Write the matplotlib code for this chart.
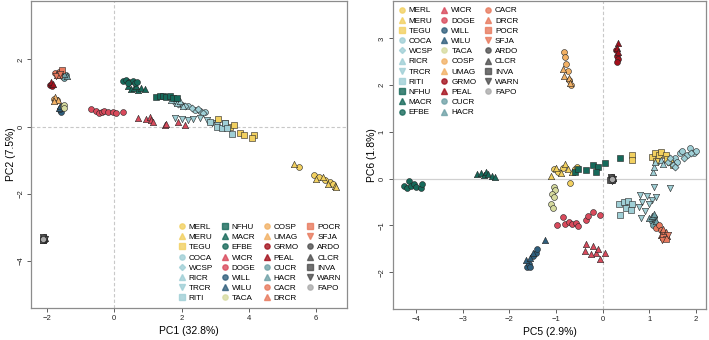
import matplotlib
matplotlib.use("Agg")
import matplotlib.pyplot as plt
from matplotlib.lines import Line2D

plt.rcParams['font.family'] = ['Liberation Sans', 'DejaVu Sans']

# =============================================================================
# DATA
# =============================================================================
GROUPS = ["MERL", "MERU", "TEGU", "COCA", "WCSP", "RICR", "TRCR", "RITI",
          "NFHU", "MACR", "EFBE", "WICR", "DOGE", "WILL", "WILU", "TACA",
          "COSP", "UMAG", "GRMO", "PEAL", "CUCR", "HACR", "CACR", "DRCR",
          "POCR", "SFJA", "ARDO", "CLCR", "INVA", "WARN", "FAPO"]

# PC1 / PC2 (left panel)
merl_pc1 = [5.48, 5.95, 6.1, 6.25, 6.4, 6.5]
merl_pc2 = [-1.19, -1.45, -1.5, -1.6, -1.65, -1.7]
meru_pc1 = [5.33, 6.0, 6.2, 6.35, 6.55, 6.6]
meru_pc2 = [-1.1, -1.55, -1.5, -1.7, -1.78, -1.8]
tegu_pc1 = [3.07, 3.3, 3.45, 3.55, 3.75, 3.85, 4.14, 4.1]
tegu_pc2 = [0.24, 0.12, 0.0, 0.05, -0.2, -0.25, -0.26, -0.33]
coca_pc1 = [1.8, 2.0, 2.2, 2.4, 2.55, 2.7]
coca_pc2 = [0.72, 0.65, 0.6, 0.5, 0.48, 0.45]
wcsp_pc1 = [1.9, 2.1, 2.3, 2.5, 2.65]
wcsp_pc2 = [0.68, 0.6, 0.55, 0.52, 0.42]
ricr_pc1 = [1.7, 1.85, 2.05, 1.95]
ricr_pc2 = [0.78, 0.7, 0.62, 0.75]
trcr_pc1 = [1.8, 2.0, 2.2, 2.35, 2.55, 2.75, 2.9, 3.05]
trcr_pc2 = [0.25, 0.22, 0.2, 0.22, 0.25, 0.2, 0.1, 0.05]
riti_pc1 = [2.85, 3.05, 3.2, 3.3, 3.5, 3.35]
riti_pc2 = [0.15, 0.0, -0.05, 0.1, -0.22, -0.05]
nfhu_pc1 = [1.25, 1.35, 1.45, 1.55, 1.65, 1.75, 1.85]
nfhu_pc2 = [0.88, 0.92, 0.9, 0.88, 0.9, 0.85, 0.85]
macr_pc1 = [0.4, 0.5, 0.6, 0.7, 0.8, 0.9, 0.65]
macr_pc2 = [1.2, 1.12, 1.15, 1.1, 1.15, 1.12, 1.2]
efbe_pc1 = [0.25, 0.35, 0.45, 0.55, 0.62, 0.4, 0.68]
efbe_pc2 = [1.35, 1.38, 1.32, 1.35, 1.3, 1.3, 1.33]
wicr_pc1 = [0.7, 0.95, 1.05, 1.1, 1.15, 1.5, 1.55, 1.9, 2.1]
wicr_pc2 = [0.25, 0.22, 0.3, 0.2, 0.15, 0.05, 0.08, 0.15, 0.05]
doge_pc1 = [-0.7, -0.55, -0.45, -0.38, -0.3, -0.2, -0.05, 0.05, 0.25]
doge_pc2 = [0.52, 0.48, 0.42, 0.45, 0.47, 0.44, 0.45, 0.42, 0.43]
will_pc1 = [-1.62, -1.58, -1.6]
will_pc2 = [0.5, 0.45, 0.52]
wilu_pc1 = [-1.65, -1.6]
wilu_pc2 = [0.55, 0.6]
taca_pc1 = [-1.52, -1.48, -1.5]
taca_pc2 = [0.6, 0.65, 0.55]
cosp_pc1 = [-1.78, -1.7]
cosp_pc2 = [0.82, 0.78]
umag_pc1 = [-1.75, -1.68, -1.8]
umag_pc2 = [0.88, 0.8, 0.75]
grmo_pc1 = [-1.9, -1.85]
grmo_pc2 = [1.25, 1.2]
peal_pc1 = [-1.88, -1.82]
peal_pc2 = [1.32, 1.28]
cucr_pc1 = [-1.55, -1.45, -1.5]
cucr_pc2 = [1.5, 1.55, 1.45]
hacr_pc1 = [-1.4, -1.48]
hacr_pc2 = [1.52, 1.58]
cacr_pc1 = [-1.75, -1.65]
cacr_pc2 = [1.6, 1.62]
drcr_pc1 = [-1.7, -1.6]
drcr_pc2 = [1.55, 1.65]
pocr_pc1 = [-1.65, -1.55]
pocr_pc2 = [1.55, 1.68]
sfja_pc1 = [-1.72, -1.6]
sfja_pc2 = [1.5, 1.58]
ardo_pc1 = [-2.12, -2.08, -2.1]
ardo_pc2 = [-3.33, -3.37, -3.29]
clcr_pc1 = [-2.1, -2.13, -2.07]
clcr_pc2 = [-3.3, -3.36, -3.32]
inva_pc1 = [-2.09, -2.11, -2.13]
inva_pc2 = [-3.35, -3.31, -3.38]
warn_pc1 = [-2.1, -2.07, -2.12]
warn_pc2 = [-3.38, -3.34, -3.3]
fapo_pc1 = [-2.11]
fapo_pc2 = [-3.35]

# PC5 / PC6 (right panel)
merl_pc5 = [-1.05, -0.95, -0.85, -0.7, -0.6, -0.55]
merl_pc6 = [0.2, 0.15, 0.22, -0.1, 0.2, 0.25]
meru_pc5 = [-1.1, -1.0, -0.9, -0.8, -0.75, -0.65]
meru_pc6 = [0.05, 0.22, 0.12, 0.32, 0.2, 0.15]
tegu_pc5 = [0.62, 0.62, 1.05, 1.12, 1.2, 1.25, 1.35, 1.15, 1.45, 1.38, 1.5]
tegu_pc6 = [0.5, 0.4, 0.47, 0.55, 0.5, 0.57, 0.5, 0.38, 0.35, 0.42, 0.3]
coca_pc5 = [1.55, 1.65, 1.7, 1.8, 1.88, 1.95, 2.0, 1.6]
coca_pc6 = [0.45, 0.55, 0.6, 0.5, 0.65, 0.55, 0.6, 0.35]
wcsp_pc5 = [1.4, 1.45, 1.5, 1.75, 1.9, 1.55]
wcsp_pc6 = [0.35, 0.45, 0.3, 0.45, 0.55, 0.25]
ricr_pc5 = [1.08, 1.1, 1.12, 1.25, 1.3]
ricr_pc6 = [0.15, 0.25, 0.35, 0.4, 0.32]
trcr_pc5 = [1.1, 1.45, 0.8, 0.95, 1.05, 1.15, 0.85, 1.0, 0.78, 0.9, 0.82]
trcr_pc6 = [-0.18, -0.2, -0.35, -0.38, -0.45, -0.4, -0.5, -0.55, -0.6, -0.7, -0.85]
riti_pc5 = [0.35, 0.45, 0.55, 0.5, 0.62, 0.37, 0.6]
riti_pc6 = [-0.55, -0.5, -0.48, -0.62, -0.55, -0.78, -0.68]
nfhu_pc5 = [-0.6, -0.52, -0.35, -0.2, -0.1, -0.15, 0.05, 0.38]
nfhu_pc6 = [0.15, 0.2, 0.18, 0.3, 0.25, 0.15, 0.33, 0.44]
macr_pc5 = [-2.7, -2.6, -2.55, -2.5, -2.45, -2.38, -2.3]
macr_pc6 = [0.1, 0.13, 0.08, 0.15, 0.1, 0.06, 0.04]
efbe_pc5 = [-4.25, -4.2, -4.15, -4.1, -4.05, -4.0, -3.9, -3.87]
efbe_pc6 = [-0.15, -0.2, -0.05, -0.15, -0.12, -0.18, -0.2, -0.12]
wicr_pc5 = [-0.35, -0.38, -0.2, -0.15, -0.1, -0.05, 0.05, -0.25]
wicr_pc6 = [-1.4, -1.55, -1.45, -1.58, -1.5, -1.72, -1.6, -1.62]
doge_pc5 = [-0.98, -0.85, -0.8, -0.72, -0.65, -0.58, -0.52, -0.35, -0.32, -0.2, -0.05]
doge_pc6 = [-1.0, -0.82, -0.98, -0.92, -0.98, -0.95, -1.02, -0.88, -0.8, -0.72, -0.78]
will_pc5 = [-1.62, -1.58, -1.5, -1.42, -1.4, -1.55]
will_pc6 = [-1.88, -1.82, -1.65, -1.58, -1.5, -1.9]
wilu_pc5 = [-1.23, -1.65, -1.55, -1.5]
wilu_pc6 = [-1.32, -1.75, -1.7, -1.6]
taca_pc5 = [-1.05, -1.03, -1.08, -1.05, -1.1, -1.07]
taca_pc6 = [-0.18, -0.25, -0.32, -0.4, -0.55, -0.62]
cosp_pc5 = [-0.82, -0.8, -0.78, -0.75, -0.72, -0.68]
cosp_pc6 = [2.72, 2.6, 2.45, 2.3, 2.1, 2.0]
umag_pc5 = [-0.85, -0.82, -0.72, -0.7]
umag_pc6 = [2.35, 2.2, 2.15, 2.05]
grmo_pc5 = [0.28, 0.3, 0.33, 0.3]
grmo_pc6 = [2.75, 2.62, 2.55, 2.5]
peal_pc5 = [0.32, 0.3, 0.34]
peal_pc6 = [2.9, 2.8, 2.7]
cucr_pc5 = [1.05, 1.1, 1.12, 1.08]
cucr_pc6 = [-0.9, -0.82, -0.95, -1.0]
hacr_pc5 = [1.0, 1.05, 1.1, 1.15]
hacr_pc6 = [-0.85, -0.8, -0.75, -0.9]
cacr_pc5 = [1.15, 1.2, 1.25, 1.3]
cacr_pc6 = [-1.05, -1.0, -1.1, -1.15]
drcr_pc5 = [1.25, 1.3, 1.35, 1.38]
drcr_pc6 = [-1.2, -1.08, -1.15, -1.22]
pocr_pc5 = [1.3, 1.35]
pocr_pc6 = [-1.25, -1.3]
sfja_pc5 = [1.28, 1.4]
sfja_pc6 = [-1.32, -1.2]
ardo_pc5 = [0.18, 0.22, 0.2]
ardo_pc6 = [0.0, -0.03, 0.04]
clcr_pc5 = [0.2, 0.17, 0.23]
clcr_pc6 = [0.03, -0.01, 0.01]
inva_pc5 = [0.21, 0.19, 0.16]
inva_pc6 = [-0.02, 0.02, -0.03]
warn_pc5 = [0.2, 0.23, 0.18]
warn_pc6 = [-0.04, 0.0, 0.03]
fapo_pc5 = [0.2]
fapo_pc6 = [0.0]

# =============================================================================
# STYLES
# =============================================================================
YEL, LBL, DGR, RED = "#F2D060", "#9FCFD6", "#16695A", "#D94A5C"
DBL, KHA, TAN, DRD = "#2F5E7C", "#D6DB9F", "#F2B165", "#A3101C"
TEA, SAL, GRY, LGR = "#6FA1A7", "#E8795D", "#4f4f4f", "#AAAAAA"

STYLE = {
    "MERL": ("o", YEL), "MERU": ("^", YEL), "TEGU": ("s", YEL),
    "COCA": ("o", LBL), "WCSP": ("D", LBL), "RICR": ("^", LBL),
    "TRCR": ("v", LBL), "RITI": ("s", LBL), "NFHU": ("s", DGR),
    "MACR": ("^", DGR), "EFBE": ("o", DGR), "WICR": ("^", RED),
    "DOGE": ("o", RED), "WILL": ("o", DBL), "WILU": ("^", DBL),
    "TACA": ("o", KHA), "COSP": ("o", TAN), "UMAG": ("^", TAN),
    "GRMO": ("o", DRD), "PEAL": ("^", DRD), "CUCR": ("o", TEA),
    "HACR": ("^", TEA), "CACR": ("o", SAL), "DRCR": ("^", SAL),
    "POCR": ("s", SAL), "SFJA": ("v", SAL), "ARDO": ("o", GRY),
    "CLCR": ("^", GRY), "INVA": ("s", GRY), "WARN": ("v", GRY),
    "FAPO": ("o", LGR),
}

SIZE = {"o": 18, "^": 21, "s": 16, "D": 13, "v": 21}
FRAME = "#8c8c8c"


def style_axes(ax):
    for sp in ax.spines.values():
        sp.set_color(FRAME)
        sp.set_linewidth(0.9)
    ax.tick_params(direction="out", length=3, width=0.6, color="#444444",
                   labelsize=5.5, labelcolor="#222222", pad=2)
    for lab in ax.get_yticklabels():
        lab.set_rotation(90)
        lab.set_va("center")


def draw_panel(ax, xkey, ykey):
    for g in GROUPS:
        m, c = STYLE[g]
        xs = globals()[g.lower() + "_" + xkey]
        ys = globals()[g.lower() + "_" + ykey]
        ax.scatter(xs, ys, marker=m, s=SIZE[m], c=c, edgecolors="#222222",
                   linewidths=0.4, zorder=3)


def legend_handles(pad=0):
    hs = []
    for g in GROUPS:
        m, c = STYLE[g]
        ms = 3.8 if m != "D" else 3.1
        hs.append(Line2D([], [], linestyle="none", marker=m, markersize=ms,
                         markerfacecolor=c, markeredgecolor=c, alpha=0.8, label=g))
    # blank slots so columns fill as in the original (11 / 11 / 9)
    for _ in range(pad):
        hs.append(Line2D([], [], linestyle="none", marker=None, label=" "))
    return hs


fig = plt.figure(figsize=(7.09, 3.40), dpi=100)
ax1 = fig.add_axes([0.044, 0.094, 0.446, 0.903])
ax2 = fig.add_axes([0.554, 0.091, 0.442, 0.906])

leg_kw = dict(frameon=False, fontsize=5.9, handlelength=0.8, handletextpad=0.45,
              columnspacing=1.0, labelspacing=0.3, borderaxespad=0.3)

# --- LEFT: PC1 vs PC2 ---
ax1.axhline(0, color="#c8c8c8", linewidth=0.8, linestyle=(0, (3, 2)), zorder=1)
ax1.axvline(0, color="#c8c8c8", linewidth=0.8, linestyle=(0, (3, 2)), zorder=1)
draw_panel(ax1, "pc1", "pc2")
ax1.set_xlim(-2.47, 6.93)
ax1.set_ylim(-5.4, 3.74)
ax1.set_xticks([-2, 0, 2, 4, 6])
ax1.set_yticks([-4, -2, 0, 2])
ax1.set_xlabel("PC1 (32.8%)", fontsize=7.5, labelpad=3)
ax1.set_ylabel("PC2 (7.5%)", fontsize=7.5, labelpad=1)
style_axes(ax1)
ax1.legend(handles=legend_handles(), ncol=4, loc="lower right",
           bbox_to_anchor=(1.0, 0.0), **leg_kw)

# --- RIGHT: PC5 vs PC6 ---
ax2.axhline(0, color="#d0d0d0", linewidth=0.9, zorder=1)
ax2.axvline(0, color="#c8c8c8", linewidth=0.8, linestyle=(0, (3, 2)), zorder=1)
draw_panel(ax2, "pc5", "pc6")
ax2.set_xlim(-4.5, 2.22)
ax2.set_ylim(-2.79, 3.8)
ax2.set_xticks([-4, -3, -2, -1, 0, 1, 2])
ax2.set_yticks([-2, -1, 0, 1, 2, 3])
ax2.set_xlabel("PC5 (2.9%)", fontsize=7.5, labelpad=3)
ax2.set_ylabel("PC6 (1.8%)", fontsize=7.5, labelpad=1)
style_axes(ax2)
ax2.legend(handles=legend_handles(pad=2), ncol=3, loc="upper left",
           bbox_to_anchor=(0.0, 1.0), **leg_kw)

fig.savefig("out.png", dpi=100)
